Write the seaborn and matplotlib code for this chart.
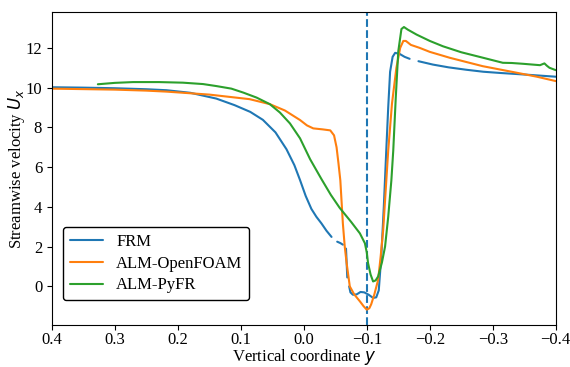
import numpy as np
import pandas as pd
import seaborn as sns
import matplotlib
matplotlib.use('Agg')
import matplotlib.pyplot as plt

# FRM, drawn in pieces (the reference has gaps in it)
frm_y = [
    [0.40, 0.35, 0.30, 0.25, 0.218, 0.18, 0.139, 0.11, 0.085, 0.065, 0.045, 0.0275,
     0.015, 0.006, -0.003, -0.012, -0.02, -0.028, -0.036, -0.044],
    [-0.053, -0.058, -0.062],
    [-0.067, -0.068, -0.069],
    [-0.072, -0.074, -0.078, -0.084, -0.09, -0.096, -0.103, -0.11, -0.115, -0.119,
     -0.123, -0.127, -0.131, -0.134, -0.137, -0.141, -0.145, -0.152, -0.16, -0.168],
    [-0.182, -0.205, -0.23, -0.258, -0.285, -0.311, -0.35, -0.4],
]
frm_u = [
    [10.02, 10.0, 9.97, 9.92, 9.87, 9.74, 9.45, 9.12, 8.78, 8.38, 7.75, 6.9,
     6.1, 5.35, 4.55, 3.9, 3.5, 3.17, 2.8, 2.49],
    [2.25, 2.18, 2.1],
    [1.9, 1.2, 0.45],
    [0.0, -0.3, -0.42, -0.4, -0.28, -0.3, -0.42, -0.58, -0.55, -0.2,
     1.5, 4.0, 6.9, 9.0, 10.8, 11.55, 11.75, 11.7, 11.55, 11.45],
    [11.33, 11.16, 11.02, 10.9, 10.8, 10.74, 10.66, 10.55],
]

of_y = [0.4, 0.3, 0.25, 0.218, 0.15, 0.086, 0.054, 0.03, 0.006, -0.005, -0.015, -0.03,
        -0.042, -0.048, -0.052, -0.055, -0.058, -0.062, -0.065, -0.068, -0.073, -0.08,
        -0.089, -0.095, -0.1, -0.104, -0.107, -0.112, -0.118, -0.122, -0.126, -0.131,
        -0.134, -0.14, -0.147, -0.153, -0.158, -0.162, -0.17, -0.184, -0.2, -0.232,
        -0.284, -0.338, -0.37, -0.4]
of_u = [9.95, 9.9, 9.85, 9.8, 9.65, 9.42, 9.17, 8.85, 8.37, 8.1, 7.95, 7.9,
        7.85, 7.6, 7.0, 6.2, 5.33, 3.17, 2.0, 1.17, 0.0, -0.4,
        -0.75, -1.0, -1.17, -1.1, -0.9, -0.4, 0.33, 1.5, 2.83, 5.33,
        6.83, 9.2, 11.0, 12.0, 12.35, 12.35, 12.15, 12.0, 11.8, 11.5,
        11.08, 10.75, 10.55, 10.33]

pf_y = [0.327, 0.3, 0.271, 0.23, 0.192, 0.16, 0.139, 0.115, 0.096, 0.075, 0.054, 0.038,
        0.022, 0.006, -0.01, -0.028, -0.043, -0.057, -0.075, -0.089, -0.097, -0.1,
        -0.102, -0.106, -0.11, -0.114, -0.118, -0.124, -0.129, -0.134, -0.139, -0.142,
        -0.146, -0.15, -0.155, -0.159, -0.165, -0.179, -0.2, -0.221, -0.25, -0.285,
        -0.316, -0.33, -0.348, -0.375, -0.382, -0.386, -0.39, -0.4]
pf_u = [10.17, 10.24, 10.28, 10.28, 10.25, 10.18, 10.08, 9.95, 9.75, 9.5, 9.17, 8.75,
        8.2, 7.45, 6.4, 5.4, 4.6, 3.95, 3.25, 2.67, 2.17, 1.7,
        1.17, 0.6, 0.25, 0.3, 0.5, 1.2, 2.0, 3.5, 5.33, 6.83,
        9.5, 11.83, 12.95, 13.05, 12.92, 12.67, 12.35, 12.08, 11.78, 11.5,
        11.25, 11.24, 11.2, 11.13, 11.22, 11.1, 11.0, 10.88]

rows = []
for i, (ys, us) in enumerate(zip(frm_y, frm_u)):
    for a, b in zip(ys, us):
        rows.append(['FRM', i, a, b])
for a, b in zip(of_y, of_u):
    rows.append(['ALM-OpenFOAM', 0, a, b])
for a, b in zip(pf_y, pf_u):
    rows.append(['ALM-PyFR', 0, a, b])
df = pd.DataFrame(rows, columns=['model', 'seg', 'y', 'U'])

sns.set_style('ticks', {'axes.edgecolor': 'black', 'xtick.color': 'black',
                        'ytick.color': 'black', 'text.color': 'black',
                        'axes.labelcolor': 'black'})
plt.rcParams['font.family'] = ['Liberation Serif', 'DejaVu Serif']
plt.rcParams['font.size'] = 12

fig, ax = plt.subplots(figsize=(5.7, 3.67), dpi=100)
fig.subplots_adjust(left=0.091, right=0.975, bottom=0.114, top=0.967)

ax.axvline(-0.1, ls='--', color='#1f77b4', lw=1.5)
sns.lineplot(data=df, x='y', y='U', hue='model', units='seg', estimator=None,
             sort=False, palette=['#1f77b4', '#ff7f0e', '#2ca02c'], lw=1.5, ax=ax)

ax.set_xlim(0.4, -0.4)
ax.set_ylim(-1.95, 13.8)
ax.set_xticks(np.arange(0.4, -0.41, -0.1))
ax.set_yticks([0, 2, 4, 6, 8, 10, 12])
ax.tick_params(labelsize=12)
ax.tick_params(axis='x', pad=1.5)
ax.set_xlabel('Vertical coordinate $y$', fontsize=12, labelpad=-1)
ax.set_ylabel('Streamwise velocity $U_x$', fontsize=12, labelpad=-1)
sns.move_legend(ax, 'lower left', bbox_to_anchor=(0.022, 0.08), borderaxespad=0,
                title=None, frameon=True, edgecolor='black', labelspacing=0.35,
                fancybox=True, framealpha=1, fontsize=12)

fig.savefig('out.png', dpi=100)
